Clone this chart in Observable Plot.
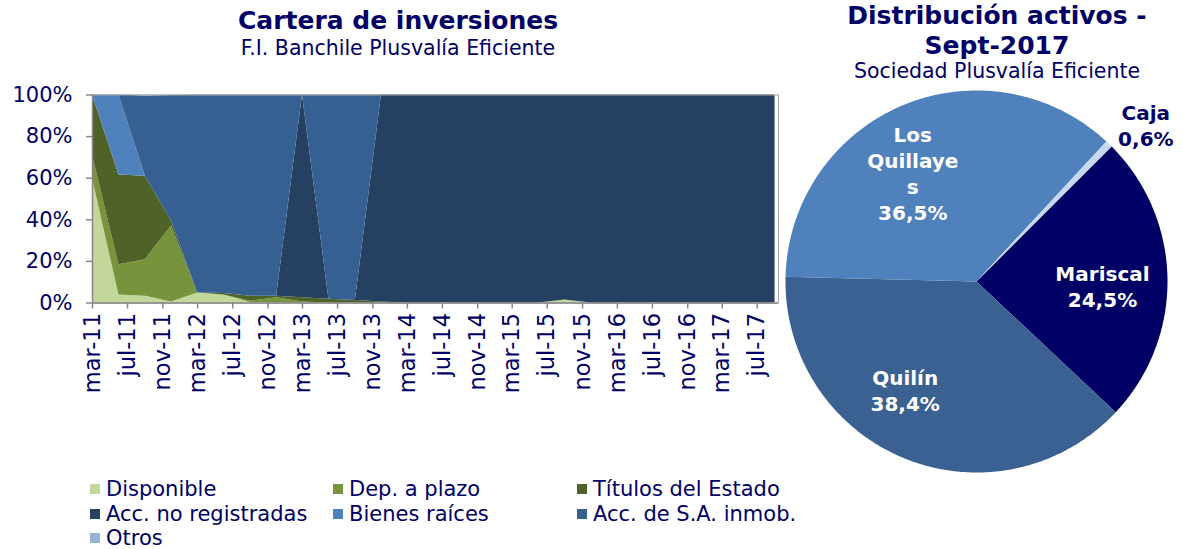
<!DOCTYPE html>
<html><head><meta charset="utf-8">
<script src="https://cdn.jsdelivr.net/npm/d3@7"></script>
<script src="https://cdn.jsdelivr.net/npm/@observablehq/plot@0.6"></script>
<style>
html,body{margin:0;padding:0;background:#fff;}
body{width:1183px;height:549px;overflow:hidden;position:relative;font-family:"DejaVu Sans",Verdana,sans-serif;color:#000066;}
.abs{position:absolute;}
.title{font-weight:bold;font-size:25px;text-align:center;white-space:nowrap;}
.sub{font-size:20.5px;line-height:20px;text-align:center;white-space:nowrap;}
#legend{position:absolute;left:90px;top:477px;display:grid;grid-template-columns:243px 244px 270px;grid-auto-rows:24.5px;font-size:21px;}
#legend .it{display:flex;align-items:center;white-space:nowrap;}
#legend .sw{width:10px;height:10px;margin-right:6px;flex:none;}
svg{overflow:visible;}
</style></head>
<body>
<div class="abs title" style="left:198px;width:400px;top:8px;line-height:26px;">Cartera de inversiones</div>
<div class="abs sub" style="left:198px;width:400px;top:38px;">F.I. Banchile Plusvalía Eficiente</div>
<div class="abs title" style="left:797px;width:400px;top:1px;line-height:30px;">Distribución activos -<br>Sept-2017</div>
<div class="abs sub" style="left:797px;width:400px;top:61px;">Sociedad Plusvalía Eficiente</div>
<div id="area" class="abs" style="left:0;top:85px;"></div>
<div id="pie" class="abs" style="left:776px;top:80px;"></div>
<div id="legend"></div>
<script>
// ---- Area chart data (quarterly, % of portfolio) ----
const quarters = ["2011-03","2011-06","2011-09","2011-12","2012-03","2012-06","2012-09","2012-12",
  "2013-03","2013-06","2013-09","2013-12","2014-03","2014-06","2014-09","2014-12",
  "2015-03","2015-06","2015-09","2015-12","2016-03","2016-06","2016-09","2016-12",
  "2017-03","2017-06","2017-09"];
const series = ["Disponible","Dep. a plazo","Títulos del Estado","Acc. no registradas","Bienes raíces","Acc. de S.A. inmob.","Otros"];
const seriesColors = ["#C4D79B","#77933C","#4F6228","#254061","#4F81BD","#376092","#95B3D7"];
const disponible   = [60, 3.8, 3.2, 0.5, 4.8, 3.8, 0.3, 0, 0, 0, 0, 0, 0, 0, 0, 0, 0, 0, 1.4, 0, 0, 0, 0, 0, 0, 0, 0];
const depPlazo     = [11, 14.6, 17.6, 36.5, 0, 0, 0.5, 2.5, 0.5, 0, 0, 0, 0, 0, 0, 0, 0, 0, 0, 0, 0, 0, 0, 0, 0, 0, 0];
const titulos      = [29, 43.1, 40.1, 2.5, 0, 0.8, 2.5, 0.7, 2.0, 1.8, 1.2, 0.5, 0, 0, 0, 0, 0, 0, 0, 0, 0, 0, 0, 0, 0, 0, 0];
const accNoReg     = [0, 0, 0, 0, 0, 0, 0, 0, 97.5, 0, 0, 99.5, 100, 100, 100, 100, 100, 100, 98.6, 100, 100, 100, 100, 100, 100, 100, 100];
const bienesRaices = [0, 38.5, 0, 0, 0, 0, 0, 0, 0, 0, 0, 0, 0, 0, 0, 0, 0, 0, 0, 0, 0, 0, 0, 0, 0, 0, 0];
const accSA        = [0, 0, 38.6, 60.2, 95.2, 95.4, 96.7, 96.8, 0, 98.2, 98.8, 0, 0, 0, 0, 0, 0, 0, 0, 0, 0, 0, 0, 0, 0, 0, 0];
const otros        = [0, 0, 0.5, 0.3, 0, 0, 0, 0, 0, 0, 0, 0, 0, 0, 0, 0, 0, 0, 0, 0, 0, 0, 0, 0, 0, 0, 0];
const seriesValues = [disponible, depPlazo, titulos, accNoReg, bienesRaices, accSA, otros];
const xTickLabels = ["mar-11","jul-11","nov-11","mar-12","jul-12","nov-12","mar-13","jul-13","nov-13","mar-14",
  "jul-14","nov-14","mar-15","jul-15","nov-15","mar-16","jul-16","nov-16","mar-17","jul-17"];
const yTicks = [0, 20, 40, 60, 80, 100];

// ---- Pie data ----
const pieLabels = ["Mariscal","Quilín","Los Quillayes","Caja"];
const pieDisplay = ["Mariscal","Quilín","Los\nQuillaye\ns","Caja"];
const pieValues = [24.5, 38.4, 36.5, 0.6];
const pieColors = ["#000066","#3A6192","#4F81BD","#C6D9F1"];

const navy = "#000066";
const monthIdx = {ene:0,feb:1,mar:2,abr:3,may:4,jun:5,jul:6,ago:7,sep:8,oct:9,nov:10,dic:11};
const parseQ = d3.utcParse("%Y-%m");
const tickDates = xTickLabels.map(s => { const [m,y] = s.split("-"); return new Date(Date.UTC(2000 + +y, monthIdx[m], 1)); });
const tickMap = new Map(tickDates.map((d,i) => [+d, xTickLabels[i]]));

const data = [];
quarters.forEach((q,i) => series.forEach((s,k) => data.push({date: parseQ(q), serie: s, value: seriesValues[k][i]})));

const x0 = new Date(Date.UTC(2011,2,1)), x1 = new Date(Date.UTC(2017,8,13));
const area = Plot.plot({
  width: 790, height: 320,
  marginLeft: 92, marginRight: 12, marginTop: 9.5, marginBottom: 102.5,
  style: {fontFamily: '"DejaVu Sans", Verdana, sans-serif', background: "transparent"},
  x: {type: "utc", domain: [x0, x1]},
  y: {domain: [0, 100]},
  color: {domain: series, range: seriesColors},
  marks: [
    Plot.areaY(data, {x: "date", y: "value", fill: "serie", curve: "linear"}),
    Plot.frame({stroke: "#A6A6A6"}),
    Plot.ruleY([0], {stroke: "#868686", strokeWidth: 1.5}),
    Plot.ruleX([x0], {stroke: "#868686", strokeWidth: 1.5}),
    Plot.axisX({ticks: tickDates, tickFormat: d => tickMap.get(+d), tickRotate: -90, tickSize: 6, tickPadding: 4,
      fontSize: 22.5, fill: navy, stroke: "#868686", strokeWidth: 1.5, label: null}),
    Plot.axisY({ticks: yTicks, tickFormat: d => d + "%", tickSize: 6, tickPadding: 14,
      fontSize: 21, fill: navy, stroke: "#868686", strokeWidth: 1.5, label: null})
  ]
});
document.getElementById("area").appendChild(area);

// pie geometry
const pieStart = 45 * Math.PI / 180;
const R = 191;
const arcs = d3.pie().sort(null).value(d => d).startAngle(pieStart).endAngle(pieStart + 2*Math.PI)(pieValues);
const pieData = arcs.flatMap((a, i) => {
  const pts = [{name: pieLabels[i], x: 0, y: 0}];
  const n = Math.max(2, Math.ceil((a.endAngle - a.startAngle) / (Math.PI/360)));
  for (let j = 0; j <= n; j++) {
    const t = a.startAngle + (a.endAngle - a.startAngle) * j / n;
    pts.push({name: pieLabels[i], x: R*Math.sin(t), y: R*Math.cos(t)});
  }
  return pts;
});
// label placement (radius fraction, angular shift in degrees)
const placement = [{k: 0.66, da: 3}, {k: 0.68, da: 11}, {k: 0.66, da: -7.5}, {k: 1.21, da: 3.2}];
const fmt = v => v.toFixed(1).replace(".", ",") + "%";
const labelData = arcs.map((a, i) => {
  const t = (a.startAngle + a.endAngle)/2 + placement[i].da * Math.PI/180;
  const r = R * placement[i].k;
  return {name: pieLabels[i], text: pieDisplay[i] + "\n" + fmt(pieValues[i]), x: r*Math.sin(t), y: r*Math.cos(t), inside: i < 3};
});
const pie = Plot.plot({
  width: 400, height: 400, margin: 0,
  style: {fontFamily: '"DejaVu Sans", Verdana, sans-serif', background: "transparent"},
  x: {domain: [-200, 200], axis: null},
  y: {domain: [-199, 201], axis: null},
  color: {domain: pieLabels, range: pieColors},
  marks: [
    Plot.line(pieData, {x: "x", y: "y", z: "name", fill: "name", stroke: "none", curve: "linear-closed"}),
    Plot.text(labelData, {x: "x", y: "y", text: "text", fill: d => d.inside ? "#FFFFFF" : navy,
      fontSize: 20, fontWeight: "bold", lineHeight: 1.3})
  ]
});
document.getElementById("pie").appendChild(pie);

// legend
const leg = document.getElementById("legend");
series.forEach((s, i) => {
  const it = document.createElement("div"); it.className = "it";
  const sw = document.createElement("span"); sw.className = "sw"; sw.style.background = seriesColors[i];
  const tx = document.createElement("span"); tx.textContent = s;
  it.appendChild(sw); it.appendChild(tx); leg.appendChild(it);
});
</script>
</body></html>
